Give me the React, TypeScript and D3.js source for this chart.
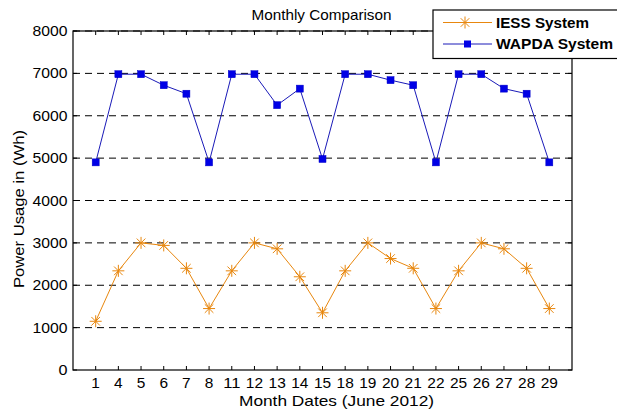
import React from "react";
import * as d3 from "d3";

const dates = ["1", "4", "5", "6", "7", "8", "11", "12", "13", "14", "15", "18", "19", "20", "21", "22", "25", "26", "27", "28", "29"];
const iess = [1150, 2340, 3000, 2940, 2400, 1450, 2340, 3000, 2860, 2200, 1350, 2340, 3000, 2630, 2400, 1450, 2340, 3000, 2860, 2400, 1450];
const wapda = [4900, 6980, 6980, 6720, 6520, 4900, 6980, 6980, 6250, 6640, 4980, 6980, 6980, 6840, 6720, 4900, 6980, 6980, 6640, 6520, 4900];
const yTicks = [0, 1000, 2000, 3000, 4000, 5000, 6000, 7000, 8000];

const W = 617;
const H = 414;
const margin = { top: 31, right: 45, bottom: 44, left: 73 };
const orange = "#E8870E";
const blue = "#1A1AB8";
const font = "Arial, 'Liberation Sans', sans-serif";

const App = () => {
  const x = d3.scaleLinear().domain([0, dates.length + 1]).range([margin.left, W - margin.right]);
  const y = d3.scaleLinear().domain([0, 8000]).range([H - margin.bottom, margin.top]);
  const line = d3.line<number>().x((_, i) => x(i + 1)).y((d) => y(d));
  const x0 = x.range()[0], x1 = x.range()[1];
  const y0 = y.range()[0], y1 = y.range()[1];
  const tk = 4;

  const star = (cx: number, cy: number, key: string) => {
    const r = 6, d = 4.3;
    return (
      <path key={key} d={`M${cx - r},${cy}H${cx + r}M${cx},${cy - r}V${cy + r}M${cx - d},${cy - d}L${cx + d},${cy + d}M${cx - d},${cy + d}L${cx + d},${cy - d}`}
        stroke={orange} strokeWidth={1} fill="none" />
    );
  };

  return (
    <svg width={W} height={H} style={{ position: "absolute", left: 0, top: 0, background: "#fff" }} fontFamily={font}>
      <rect x={0} y={0} width={W} height={H} fill="#fff" />
      {/* grid */}
      {yTicks.filter((t) => t > 0).map((t) => (
        <line key={"g" + t} x1={x0} x2={x1} y1={y(t)} y2={y(t)} stroke="#000" strokeWidth={1} strokeDasharray="7,5" />
      ))}
      {/* axes box */}
      <rect x={x0} y={y1} width={x1 - x0} height={y0 - y1} fill="none" stroke="#000" strokeWidth={1.2} />
      {/* y ticks */}
      {yTicks.map((t) => (
        <g key={"y" + t}>
          <line x1={x0} x2={x0 + tk} y1={y(t)} y2={y(t)} stroke="#000" />
          <line x1={x1} x2={x1 - tk} y1={y(t)} y2={y(t)} stroke="#000" />
          <text x={x0 - 5.5} y={y(t) + 5} textAnchor="end" fontSize={14} textLength={t === 0 ? 9 : 35} lengthAdjust="spacingAndGlyphs">{t}</text>
        </g>
      ))}
      {/* x ticks */}
      {dates.map((d, i) => (
        <g key={"x" + d}>
          <line x1={x(i + 1)} x2={x(i + 1)} y1={y0} y2={y0 - tk} stroke="#000" />
          <line x1={x(i + 1)} x2={x(i + 1)} y1={y1} y2={y1 + tk} stroke="#000" />
          <text x={x(i + 1)} y={388} textAnchor="middle" fontSize={14} textLength={d.length * 8.6} lengthAdjust="spacingAndGlyphs">{d}</text>
        </g>
      ))}
      {/* series */}
      <path d={line(wapda) || ""} fill="none" stroke={blue} strokeWidth={1} />
      {wapda.map((v, i) => (
        <rect key={"w" + i} x={x(i + 1) - 3.5} y={y(v) - 3.5} width={7} height={7} fill="#0000E6" stroke="#0000C8" strokeWidth={0.5} />
      ))}
      <path d={line(iess) || ""} fill="none" stroke={orange} strokeWidth={1} />
      {iess.map((v, i) => star(x(i + 1), y(v), "s" + i))}
      {/* labels */}
      <text x={321.5} y={20} textAnchor="middle" fontSize={14.5} textLength={140} lengthAdjust="spacingAndGlyphs">Monthly Comparison</text>
      <text x={336.5} y={406} textAnchor="middle" fontSize={15} textLength={195} lengthAdjust="spacingAndGlyphs">Month Dates (June 2012)</text>
      <text transform={`translate(23.5,209) rotate(-90)`} textAnchor="middle" fontSize={15} textLength={158} lengthAdjust="spacingAndGlyphs">Power Usage in (Wh)</text>
      {/* legend */}
      <rect x={433} y={10} width={200} height={48.5} fill="#fff" stroke="#000" strokeWidth={1.2} />
      <line x1={443} x2={492} y1={22.5} y2={22.5} stroke={orange} />
      {star(465, 22.5, "ls")}
      <text x={496} y={27.5} fontSize={14} fontWeight="bold" textLength={93} lengthAdjust="spacingAndGlyphs">IESS System</text>
      <line x1={443} x2={492} y1={44} y2={44} stroke={blue} />
      <rect x={464} y={40.5} width={7} height={7} fill="#0000E6" />
      <text x={496} y={49} fontSize={14} fontWeight="bold" textLength={117} lengthAdjust="spacingAndGlyphs">WAPDA System</text>
    </svg>
  );
};

export default App;
